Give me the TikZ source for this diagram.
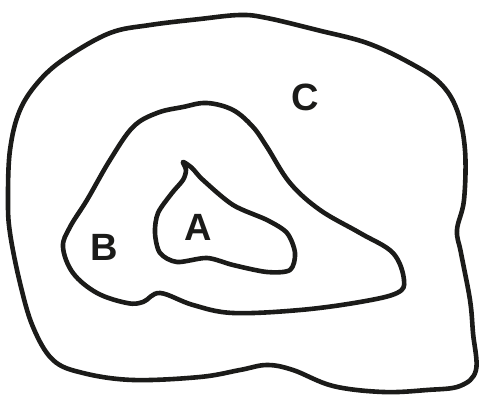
\documentclass[tikz,border=0pt]{standalone}
\usepackage{fontspec}
\setsansfont{Liberation Sans}
\usepackage{tikz}
\definecolor{ink}{HTML}{1B1B19}
\tikzset{
  every picture/.style={font=\sffamily},
  ring/.style={draw=ink,line width=4.6pt,line join=round,line cap=round},
  zone/.style={text=ink,font=\sffamily\bfseries\fontsize{38}{40}\selectfont,inner sep=0pt},
}
\begin{document}
\begin{tikzpicture}[x=1pt,y=-1pt]
  \useasboundingbox (0,0) rectangle (480,403);
  % outer region C
  \draw[ring] plot[smooth cycle,tension=0.6] coordinates {
    (240,15) (200,19) (150,25) (110,33) (67,57) (40,80) (20,110) (10,150)
    (8,200) (10,233) (20,283) (33,327) (53,360) (83,373) (133,380) (200,377)
    (240,370) (267,365) (293,370) (333,386) (383,392) (427,390) (460,386)
    (476,370) (473,333) (470,300) (461,253) (457,230) (464,200) (465,150)
    (457,110) (440,83) (410,63) (367,43) (317,30) (267,18)};
  % middle region B
  \draw[ring] plot[smooth cycle,tension=0.6] coordinates {
    (207,103) (233,110) (253,127) (267,147) (290,183) (320,210) (360,233)
    (393,253) (404,280) (397,293) (360,302) (300,310) (233,313) (193,305)
    (160,293) (143,302) (127,303) (97,293) (73,273) (63,247) (70,227)
    (87,200) (110,160) (133,127) (157,113) (183,107)};
  % inner region A
  \draw[ring] plot[smooth cycle,tension=0.5] coordinates {
    (183,162) (192,168) (203,180) (233,205) (267,220) (287,233) (295,253)
    (290,270) (267,272) (233,265) (207,258) (177,262) (160,253) (155,233)
    (158,213) (172,193) (183,180) (186,170)};
  \node[zone] (labC) at (305,97) {C};
  \node[zone] (labB) at (104,247) {B};
  \node[zone] (labA) at (198,227) {A};
\end{tikzpicture}
\end{document}
